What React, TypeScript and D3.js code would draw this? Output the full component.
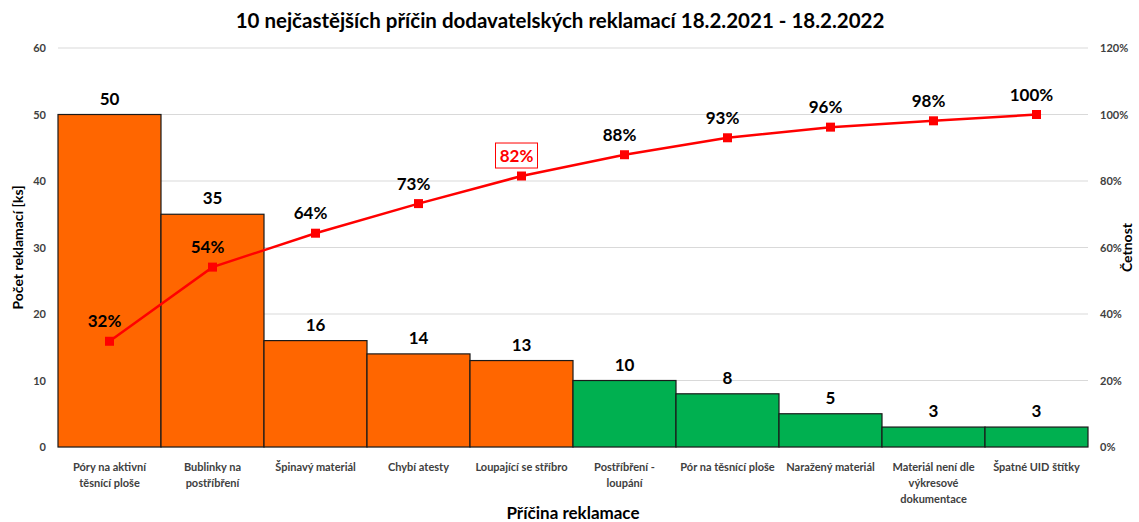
import React from "react";
import * as d3 from "d3";

const categories = [
  "Póry na aktivní\ntěsnící ploše",
  "Bublinky na\npostříbření",
  "Špinavý materiál",
  "Chybí atesty",
  "Loupající se stříbro",
  "Postříbření -\nloupání",
  "Pór na těsnící ploše",
  "Naražený materiál",
  "Materiál není dle\nvýkresové\ndokumentace",
  "Špatné UID štítky",
];
const counts = [50, 35, 16, 14, 13, 10, 8, 5, 3, 3];
const cumulative = [31.8, 54.1, 64.3, 73.2, 81.5, 87.9, 93.0, 96.2, 98.1, 100];
const isMajor = [true, true, true, true, true, false, false, false, false, false];
const leftTicks = [0, 10, 20, 30, 40, 50, 60];
const rightTicks = [0, 20, 40, 60, 80, 100, 120];
const highlightIndex = 4;

const W = 1139, H = 522;
const M = { left: 58, right: 1088, top: 48, bottom: 447 };
const FONT = "Lato, 'Open Sans', sans-serif";

export default function App() {
  const x = d3.scaleBand<number>().domain(d3.range(categories.length)).range([M.left, M.right]).padding(0);
  const y = d3.scaleLinear().domain([0, 60]).range([M.bottom, M.top]);
  const y2 = d3.scaleLinear().domain([0, 120]).range([M.bottom, M.top]);
  const line = d3
    .line<number>()
    .x((_, i) => x(i)! + x.bandwidth() / 2)
    .y((d) => y2(d));

  return (
    <svg width={W} height={H} style={{ position: "absolute", left: 0, top: 0, background: "#fff" }} fontFamily={FONT}>
      <text x={560} y={28} textAnchor="middle" fontSize={20.5} fontWeight="bold" fill="#000">
        10 nejčastějších příčin dodavatelských reklamací 18.2.2021 - 18.2.2022
      </text>
      {leftTicks.map((t) => (
        <g key={t}>
          <line x1={M.left} x2={M.right} y1={y(t)} y2={y(t)} stroke="#d9d9d9" strokeWidth={1} />
          <text x={46} y={y(t) + 4} textAnchor="end" fontSize={11} fontWeight="bold" fill="#404040">{t}</text>
        </g>
      ))}
      {rightTicks.map((t) => (
        <text key={t} x={1100} y={y2(t) + 4} textAnchor="start" fontSize={11} fontWeight="bold" fill="#404040">{t}%</text>
      ))}
      {counts.map((c, i) => (
        <g key={i}>
          <rect
            x={x(i)!}
            y={y(c)}
            width={x.bandwidth()}
            height={y(0) - y(c)}
            fill={isMajor[i] ? "#FF6600" : "#00B050"}
            stroke="#1a1a1a"
            strokeWidth={1.2}
          />
          <text x={x(i)! + x.bandwidth() / 2} y={y(c) - 10} textAnchor="middle" fontSize={17} fontWeight="bold" fill="#000">{c}</text>
        </g>
      ))}
      <path d={line(cumulative)!} fill="none" stroke="#FF0000" strokeWidth={2.5} />
      {cumulative.map((v, i) => {
        const cx = x(i)! + x.bandwidth() / 2;
        const cy = y2(v);
        const hl = i === highlightIndex;
        const lx = cx - 5;
        return (
          <g key={i}>
            <rect x={cx - 4.5} y={cy - 4.5} width={9} height={9} fill="#FF0000" />
            {hl && <rect x={lx - 21} y={cy - 33} width={42} height={25} fill="#fff" stroke="#FF0000" strokeWidth={1} />}
            <text x={lx} y={cy - 14} textAnchor="middle" fontSize={17} fontWeight="bold" fill={hl ? "#FF0000" : "#000"}>
              {Math.round(v)}%
            </text>
          </g>
        );
      })}
      {categories.map((c, i) => (
        <text key={i} x={x(i)! + x.bandwidth() / 2} y={471} textAnchor="middle" fontSize={11} fontWeight="bold" fill="#404040">
          {c.split("\n").map((l, j) => (
            <tspan key={j} x={x(i)! + x.bandwidth() / 2} dy={j === 0 ? 0 : 16}>{l}</tspan>
          ))}
        </text>
      ))}
      <text x={573} y={519} textAnchor="middle" fontSize={17} fontWeight="bold" fill="#000">Příčina reklamace</text>
      <text transform={`translate(23,${(M.top + M.bottom) / 2}) rotate(-90)`} textAnchor="middle" fontSize={14} fontWeight="bold" fill="#000">
        Počet reklamací [ks]
      </text>
      <text transform={`translate(1132,${y2(60)}) rotate(-90)`} textAnchor="middle" fontSize={14} fontWeight="bold" fill="#000">
        Četnost
      </text>
    </svg>
  );
}
